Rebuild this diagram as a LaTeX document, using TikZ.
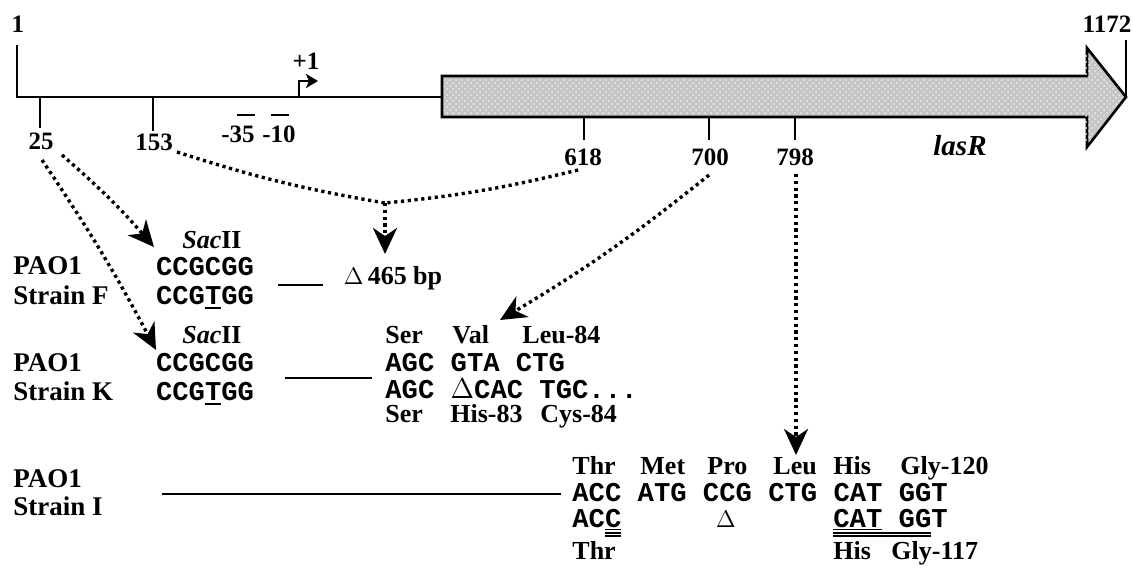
\documentclass[tikz,border=0pt]{standalone}
\usepackage{fontspec}
\setmainfont{Liberation Serif}
\setmonofont{Liberation Mono}
\usetikzlibrary{arrows.meta,calc,patterns}
\newcommand{\ulc}[1]{\rlap{\rule[-2.6pt]{0.6em}{0.9pt}}#1}
\newcommand{\dulc}[1]{\rlap{\rule[-1.6pt]{0.6em}{0.5pt}}\rlap{\rule[-3.4pt]{0.6em}{0.8pt}}\rlap{\rule[-5.0pt]{0.6em}{0.8pt}}#1}
\begin{document}
\begin{tikzpicture}[x=0.5pt,y=-0.5pt,
  lab/.style={font=\fontsize{13}{15}\selectfont\bfseries, inner sep=0pt, anchor=base west},
  big/.style={font=\fontsize{13.5}{15}\selectfont\bfseries, inner sep=0pt, anchor=base west},
  num/.style={font=\fontsize{12.5}{14}\selectfont\bfseries, inner sep=0pt, anchor=base},
  seq/.style={font=\fontsize{13.6}{15}\selectfont\ttfamily\bfseries, inner sep=0pt, anchor=base west},
  seqb/.style={font=\fontsize{13.6}{15}\selectfont\ttfamily\bfseries, inner sep=0pt, anchor=base},
  thickline/.style={line width=1.4pt},
  dotline/.style={line width=1.7pt, dash pattern=on 1.6pt off 1.8pt},
  dotarrow/.style={dotline, -{Stealth[length=13pt,width=12pt,inset=4pt]}},
]
\useasboundingbox (0,0) rectangle (1133,584);

% ---------------- map ----------------
\node[num] (n1) at (18,32) {1};
\coordinate (left) at (17,97);
\coordinate (lefttop) at (17,45);
\coordinate (gstart) at (442,97);
\draw[thickline] (lefttop) -- (left) -- (gstart);

\coordinate (t25) at (40,97);
\coordinate (t25b) at (40,128);
\draw[thickline] (t25) -- (t25b);
\node[num] (l25) at (41,149) {25};
\coordinate (t153) at (153,97);
\coordinate (t153b) at (153,131);
\draw[thickline] (t153) -- (t153b);
\node[num] (l153) at (154,150) {153};

\node[num] (m35) at (238,142) {-35};
\node[num] (m10) at (279,142) {-10};
\draw[line width=1pt] (237,115) -- (255,115);
\draw[line width=1pt] (271,115) -- (289,115);

\coordinate (prom) at (299,97);
\draw[line width=1.4pt, -{Stealth[length=6pt,width=7pt,inset=1.5pt]}] (prom) -- (299,81) -- (318,81);
\node[num] (p1) at (306,69) {+1};

% gene arrow
\filldraw[line width=1.3pt, fill=gray!45, draw=black]
  (442,76) -- (1087,76) -- (1087,48) -- (1126,97) -- (1087,147) -- (1087,117) -- (442,117) -- cycle;
\fill[pattern=crosshatch dots, pattern color=white!85!gray]
  (444,78) -- (1085,78) -- (1085,52) -- (1123,97) -- (1085,143) -- (1085,115) -- (444,115) -- cycle;
\coordinate (tip) at (1126,97);
\coordinate (tiptop) at (1126,40);
\draw[thickline] (tiptop) -- (tip);
\node[num] (l1172) at (1107,32) {1172};

\foreach \x in {584,709,795}{
  \draw[thickline] (\x,117) -- (\x,140);
}
\node[num] (l618) at (583,165) {618};
\node[num] (l700) at (710,165) {700};
\node[num] (l798) at (795,165) {798};
\node[num, font=\fontsize{14.5}{16}\selectfont\bfseries\itshape] (lasr) at (960,155) {lasR};

% ---------------- strain F ----------------
\node[num, font=\fontsize{13}{15}\selectfont\bfseries] (sac1) at (212,248) {{\itshape Sac}II};
\node[big] (pao1f) at (13,274) {PAO1};
\node[big] (strf) at (13,304) {Strain F};
\node[seqb] (wtf) at (205,275) {CCGCGG};
\node[seqb] (mutf) at (205,304) {CCG\ulc{T}GG};
\coordinate (df1) at (278,285);
\coordinate (df2) at (323,285);
\draw[thickline] (df1) -- (df2);
\node[num, font=\fontsize{13}{15}\selectfont\bfseries] (del465) at (393,284) {$\Delta$\,465 bp};

% ---------------- strain K ----------------
\node[num, font=\fontsize{13}{15}\selectfont\bfseries] (sac2) at (212,343) {{\itshape Sac}II};
\node[big] (pao1k) at (13,371) {PAO1};
\node[big] (strk) at (13,400) {Strain K};
\node[seqb] (wtk) at (205,371) {CCGCGG};
\node[seqb] (mutk) at (205,400) {CCG\ulc{T}GG};
\coordinate (dk1) at (285,378);
\coordinate (dk2) at (372,378);
\draw[thickline] (dk1) -- (dk2);
\node[lab] (kser) at (385,343) {Ser};
\node[lab] (kval) at (452,343) {Val};
\node[lab] (kleu) at (522,343) {Leu-84};
\node[seq] (kwt) at (385,371) {AGC GTA CTG};
\node[seq] (kmut) at (385,398) {AGC {\mdseries\rmfamily $\Delta$}CAC TGC...};
\node[lab] (kser2) at (385,422) {Ser};
\node[lab] (khis) at (450,422) {His-83};
\node[lab] (kcys) at (540,422) {Cys-84};

% ---------------- strain I ----------------
\node[big] (pao1i) at (13,487) {PAO1};
\node[big] (stri) at (13,515) {Strain I};
\coordinate (di1) at (162,494);
\coordinate (di2) at (561,494);
\draw[thickline] (di1) -- (di2);
\node[lab] (ithr) at (572,474) {Thr};
\node[lab] (imet) at (640,474) {Met};
\node[lab] (ipro) at (707,474) {Pro};
\node[lab] (ileu) at (773,474) {Leu};
\node[lab] (ihis) at (833,474) {His};
\node[lab] (igly) at (900,474) {Gly-120};
\node[seq] (iwt) at (572,501) {ACC ATG CCG CTG CAT GGT};
\node[seq] (imut) at (572,527) {AC\dulc{C}};
\node[num, font=\fontsize{12.5}{14}\selectfont] (idel) at (726,527) {$\Delta$};
\node[seq] (imut2) at (833,527) {\rlap{\rule[-1.6pt]{1.8em}{0.5pt}}\rlap{\rule[-3.4pt]{3.6em}{0.8pt}}\rlap{\rule[-5.0pt]{3.6em}{0.8pt}}CAT GGT};
\node[lab] (ithr2) at (572,559) {Thr};
\node[lab] (ihis2) at (833,559) {His};
\node[lab] (igly2) at (891,559) {Gly-117};

% ---------------- dotted connectors ----------------
\coordinate (a1s) at (62,155);
\coordinate (a1e) at (154,247);
\draw[dotarrow] (a1s) to[bend left=4] (a1e);
\coordinate (a2s) at (42,160);
\coordinate (a2e) at (156,350);
\draw[dotarrow] (a2s) to[bend left=3] (a2e);

\coordinate (s153) at (177,152);
\coordinate (s618) at (578,170);
\coordinate (J) at (385,203);
\coordinate (Je) at (385,254);
\draw[dotline] (s153) to[bend right=4] (J);
\draw[dotline] (s618) to[bend left=4] (J);
\draw[dotarrow] (J) -- (Je);

\coordinate (s700) at (709,175);
\coordinate (e700) at (500,320);
\draw[dotarrow] (s700) to[bend left=4] (e700);

\coordinate (s798) at (796,174);
\coordinate (e798) at (796,455);
\draw[dotarrow] (s798) -- (e798);
\end{tikzpicture}
\end{document}
